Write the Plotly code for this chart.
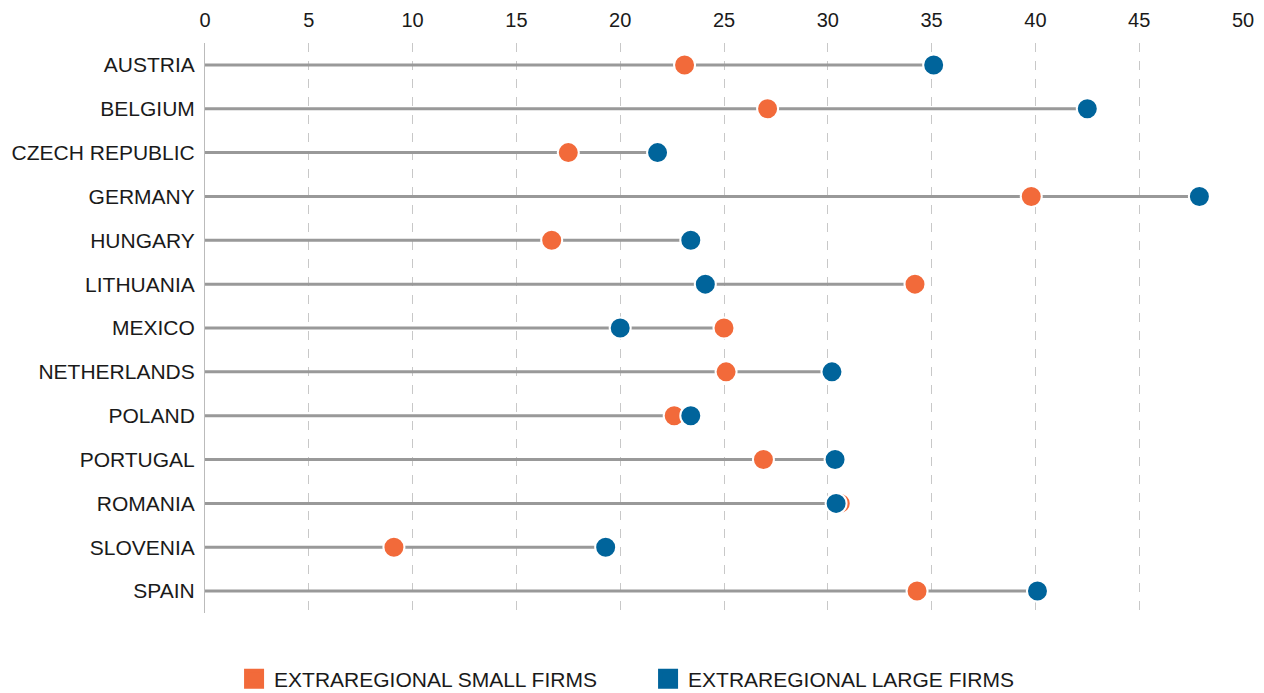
import plotly.graph_objects as go

countries = ["AUSTRIA", "BELGIUM", "CZECH REPUBLIC", "GERMANY", "HUNGARY", "LITHUANIA",
             "MEXICO", "NETHERLANDS", "POLAND", "PORTUGAL", "ROMANIA", "SLOVENIA", "SPAIN"]
small_firms = [23.1, 27.1, 17.5, 39.8, 16.7, 34.2, 25.0, 25.1, 22.6, 26.9, 30.6, 9.1, 34.3]
large_firms = [35.1, 42.5, 21.8, 47.9, 23.4, 24.1, 20.0, 30.2, 23.4, 30.35, 30.4, 19.3, 40.1]
x_ticks = [0, 5, 10, 15, 20, 25, 30, 35, 40, 45, 50]

ORANGE = "#F26A3A"
BLUE = "#00649B"
FONT = "Liberation Sans, Arial, sans-serif"

line_x, line_y = [], []
for c, s, l in zip(countries, small_firms, large_firms):
    line_x += [0, max(s, l), None]
    line_y += [c, c, None]

fig = go.Figure()
fig.add_trace(go.Scatter(x=line_x, y=line_y, mode="lines",
                         line=dict(color="#999999", width=3),
                         showlegend=False, hoverinfo="skip"))
fig.add_trace(go.Scatter(x=small_firms, y=countries, mode="markers",
                         marker=dict(color=ORANGE, size=21, line=dict(color="white", width=2)),
                         showlegend=False, name="EXTRAREGIONAL SMALL FIRMS"))
fig.add_trace(go.Scatter(x=large_firms, y=countries, mode="markers",
                         marker=dict(color=BLUE, size=21, line=dict(color="white", width=2)),
                         showlegend=False, name="EXTRAREGIONAL LARGE FIRMS"))
# legend entries
fig.add_trace(go.Scatter(x=[None], y=[None], mode="markers", name="EXTRAREGIONAL SMALL FIRMS",
                         marker=dict(color=ORANGE, size=16, symbol="square",
                                     line=dict(color=ORANGE, width=4))))
fig.add_trace(go.Scatter(x=[None], y=[None], mode="markers", name="EXTRAREGIONAL LARGE FIRMS",
                         marker=dict(color=BLUE, size=16, symbol="square",
                                     line=dict(color=BLUE, width=4))))

fig.update_layout(
    width=1256, height=685,
    margin=dict(l=197, r=21, t=35, b=80, autoexpand=False),
    paper_bgcolor="white", plot_bgcolor="white",
    font=dict(family=FONT, size=21, color="#1a1a1a"),
    legend=dict(orientation="h", x=0.028, xanchor="left", y=-0.08, yanchor="top",
                font=dict(size=21), itemsizing="trace", entrywidth=369,
                entrywidthmode="pixels"),
    xaxis=dict(side="top", range=[0, 50], tickvals=x_ticks, showgrid=True,
               gridcolor="#c8c8c8", griddash="dash", gridwidth=1, zeroline=False,
               showline=False, ticklabelstandoff=11, tickfont=dict(size=20)),
    yaxis=dict(categoryorder="array", categoryarray=countries,
               range=[12.5, -0.5], autorange=False, showgrid=False, showline=True,
               linecolor="#bbbbbb", linewidth=1, zeroline=False, ticklabelstandoff=5,
               tickfont=dict(size=21)),
)
fig.write_html("out.html")
